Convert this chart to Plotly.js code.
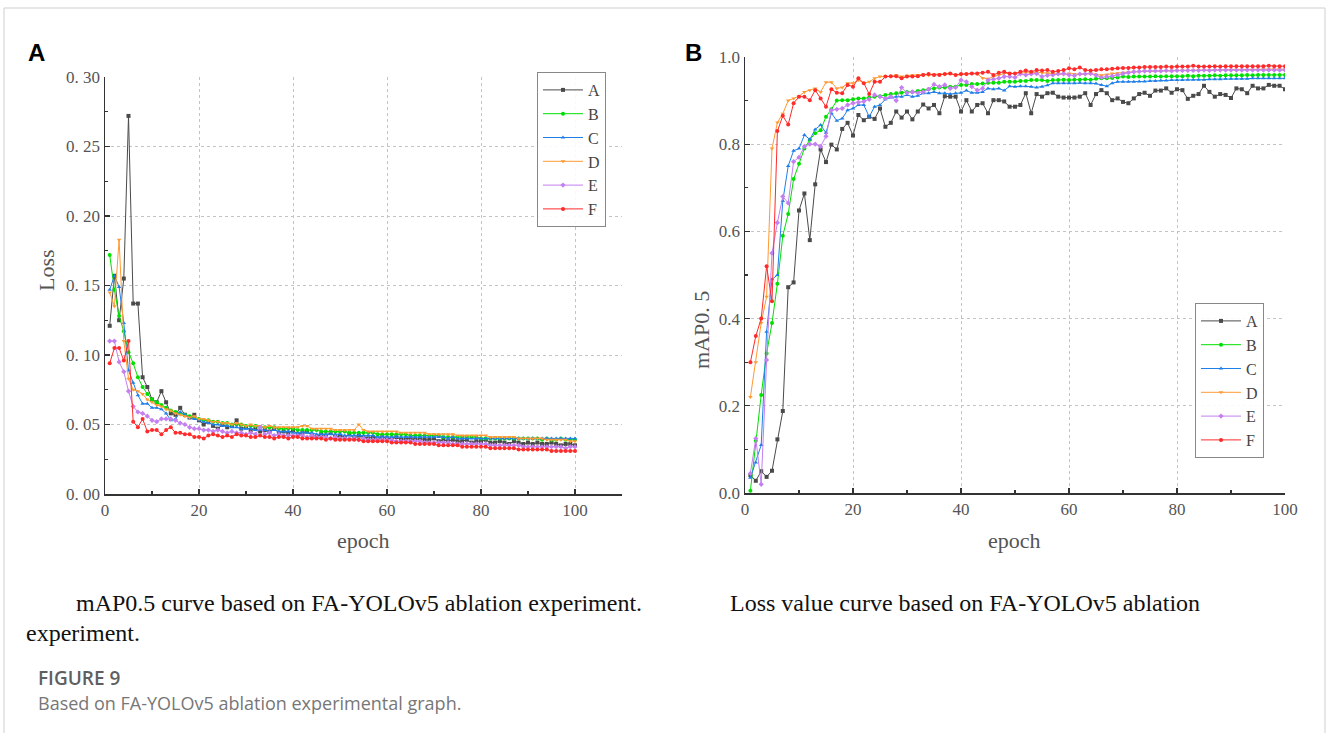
<!DOCTYPE html>
<html>
<head>
<meta charset="utf-8">
<script src="https://cdn.plot.ly/plotly-3.0.1.min.js"></script>
<style>html,body{margin:0;padding:0;background:#fff;}#chart{width:1328px;height:733px;}</style>
</head>
<body>
<div id="chart"></div>
<script>
const epochs = Array.from({length: 100}, (_, i) => i + 1);
const seriesNames = ["A", "B", "C", "D", "E", "F"];
const seriesColors = ["#4a4a4a", "#00e000", "#1f7fe8", "#ff9a33", "#c47ff0", "#ff2a2a"];
const seriesSymbols = ["square", "circle", "triangle-up", "triangle-down", "diamond", "circle"];

const lossA = [0.121,0.157,0.125,0.155,0.272,0.137,0.137,0.084,0.077,0.068,0.066,0.074,0.066,0.058,0.057,0.062,0.057,0.055,0.057,0.053,
0.050,0.052,0.049,0.047,0.050,0.048,0.049,0.053,0.047,0.048,0.046,0.047,0.045,0.046,0.045,0.047,0.044,0.045,0.044,0.046,
0.043,0.044,0.045,0.042,0.041,0.043,0.042,0.044,0.041,0.042,0.041,0.043,0.040,0.042,0.041,0.040,0.041,0.040,0.041,0.040,
0.040,0.041,0.039,0.040,0.040,0.039,0.040,0.039,0.039,0.040,0.038,0.039,0.038,0.039,0.038,0.038,0.039,0.037,0.038,0.038,
0.039,0.037,0.037,0.038,0.037,0.036,0.038,0.037,0.036,0.037,0.036,0.037,0.036,0.036,0.037,0.036,0.035,0.036,0.036,0.035];
const lossB = [0.172,0.147,0.128,0.117,0.102,0.094,0.084,0.077,0.072,0.068,0.066,0.064,0.062,0.060,0.059,0.058,0.057,0.056,0.055,0.054,
0.053,0.053,0.052,0.052,0.051,0.051,0.050,0.050,0.050,0.049,0.049,0.049,0.048,0.048,0.048,0.048,0.047,0.047,0.047,0.047,
0.046,0.046,0.046,0.046,0.046,0.045,0.045,0.045,0.045,0.045,0.045,0.044,0.044,0.044,0.044,0.044,0.044,0.043,0.043,0.043,
0.043,0.043,0.043,0.043,0.042,0.042,0.042,0.042,0.042,0.042,0.042,0.041,0.041,0.041,0.041,0.041,0.041,0.041,0.041,0.040,
0.040,0.040,0.040,0.040,0.040,0.040,0.040,0.040,0.040,0.040,0.040,0.040,0.039,0.040,0.039,0.039,0.040,0.039,0.039,0.039];
const lossC = [0.147,0.157,0.149,0.123,0.089,0.080,0.071,0.065,0.065,0.062,0.062,0.061,0.058,0.053,0.054,0.059,0.057,0.055,0.054,0.053,
0.052,0.051,0.050,0.050,0.049,0.049,0.048,0.048,0.047,0.047,0.047,0.046,0.046,0.046,0.045,0.046,0.045,0.045,0.045,0.044,
0.044,0.044,0.044,0.044,0.043,0.043,0.043,0.043,0.043,0.043,0.042,0.042,0.042,0.042,0.042,0.042,0.042,0.041,0.041,0.041,
0.041,0.041,0.041,0.041,0.041,0.041,0.041,0.041,0.041,0.041,0.041,0.041,0.040,0.041,0.040,0.040,0.040,0.040,0.040,0.040,
0.040,0.040,0.040,0.040,0.040,0.040,0.040,0.040,0.040,0.040,0.040,0.040,0.040,0.040,0.040,0.040,0.040,0.040,0.040,0.040];
const lossD = [0.145,0.135,0.183,0.110,0.083,0.075,0.074,0.072,0.068,0.066,0.064,0.063,0.061,0.060,0.058,0.057,0.056,0.055,0.056,0.054,
0.054,0.053,0.052,0.052,0.051,0.051,0.050,0.051,0.050,0.049,0.050,0.049,0.049,0.048,0.049,0.048,0.048,0.048,0.048,0.048,
0.048,0.049,0.049,0.047,0.047,0.047,0.047,0.047,0.046,0.046,0.046,0.046,0.046,0.050,0.046,0.045,0.045,0.045,0.045,0.045,
0.045,0.045,0.044,0.044,0.044,0.044,0.044,0.044,0.043,0.043,0.043,0.043,0.043,0.043,0.042,0.042,0.042,0.042,0.042,0.042,
0.042,0.041,0.041,0.041,0.041,0.041,0.041,0.040,0.040,0.040,0.040,0.040,0.040,0.039,0.039,0.039,0.039,0.039,0.038,0.038];
const lossE = [0.110,0.110,0.095,0.088,0.074,0.063,0.059,0.058,0.056,0.053,0.052,0.054,0.054,0.054,0.053,0.051,0.050,0.048,0.047,0.047,
0.046,0.046,0.045,0.046,0.045,0.044,0.045,0.044,0.044,0.043,0.044,0.043,0.048,0.043,0.044,0.042,0.043,0.042,0.042,0.042,
0.042,0.042,0.041,0.042,0.041,0.041,0.041,0.040,0.041,0.040,0.040,0.040,0.040,0.039,0.040,0.039,0.039,0.039,0.039,0.039,
0.039,0.038,0.038,0.038,0.038,0.038,0.038,0.037,0.037,0.037,0.037,0.037,0.037,0.036,0.036,0.036,0.036,0.036,0.036,0.036,
0.036,0.035,0.035,0.035,0.035,0.035,0.035,0.035,0.034,0.034,0.034,0.034,0.034,0.034,0.034,0.034,0.034,0.033,0.034,0.034];
const lossF = [0.094,0.105,0.105,0.096,0.110,0.052,0.048,0.054,0.045,0.046,0.046,0.043,0.046,0.048,0.044,0.044,0.043,0.043,0.041,0.041,
0.040,0.042,0.043,0.042,0.041,0.042,0.041,0.043,0.042,0.042,0.041,0.041,0.042,0.041,0.041,0.040,0.041,0.041,0.040,0.041,
0.041,0.040,0.040,0.040,0.040,0.040,0.039,0.040,0.039,0.039,0.039,0.039,0.039,0.039,0.038,0.038,0.038,0.038,0.038,0.038,
0.037,0.037,0.037,0.037,0.037,0.036,0.036,0.036,0.036,0.036,0.035,0.035,0.035,0.035,0.035,0.034,0.034,0.034,0.034,0.034,
0.034,0.033,0.033,0.033,0.033,0.033,0.033,0.032,0.032,0.032,0.032,0.032,0.032,0.032,0.031,0.031,0.031,0.031,0.031,0.031];

const mapA = [0.041,0.028,0.050,0.037,0.051,0.123,0.188,0.472,0.483,0.648,0.687,0.580,0.708,0.788,0.759,0.799,0.788,0.835,0.849,0.820,
0.867,0.855,0.863,0.858,0.882,0.840,0.849,0.875,0.861,0.875,0.857,0.875,0.891,0.882,0.890,0.871,0.910,0.909,0.909,0.875,
0.901,0.875,0.890,0.894,0.871,0.901,0.901,0.898,0.886,0.886,0.890,0.917,0.871,0.915,0.909,0.917,0.918,0.909,0.907,0.907,
0.907,0.909,0.917,0.890,0.915,0.924,0.917,0.901,0.905,0.897,0.894,0.905,0.915,0.918,0.911,0.923,0.923,0.928,0.918,0.926,
0.924,0.904,0.911,0.915,0.934,0.920,0.909,0.915,0.913,0.906,0.928,0.926,0.917,0.934,0.928,0.928,0.936,0.934,0.934,0.926];
const mapB = [0.005,0.120,0.225,0.320,0.390,0.480,0.590,0.640,0.720,0.755,0.790,0.810,0.825,0.832,0.863,0.880,0.900,0.901,0.901,0.903,
0.905,0.905,0.907,0.909,0.910,0.913,0.915,0.917,0.918,0.920,0.920,0.922,0.924,0.926,0.928,0.930,0.930,0.932,0.932,0.936,
0.936,0.938,0.938,0.939,0.941,0.941,0.941,0.943,0.943,0.943,0.945,0.945,0.947,0.947,0.947,0.945,0.947,0.947,0.948,0.947,
0.948,0.948,0.949,0.948,0.950,0.951,0.951,0.952,0.953,0.955,0.954,0.955,0.955,0.955,0.955,0.956,0.955,0.956,0.956,0.956,
0.956,0.957,0.956,0.957,0.957,0.957,0.958,0.957,0.958,0.958,0.958,0.958,0.959,0.958,0.959,0.959,0.959,0.959,0.959,0.959];
const mapC = [0.035,0.070,0.110,0.370,0.490,0.500,0.670,0.750,0.785,0.790,0.821,0.811,0.834,0.844,0.826,0.871,0.854,0.859,0.878,0.882,
0.890,0.890,0.863,0.886,0.890,0.903,0.907,0.909,0.909,0.913,0.909,0.911,0.917,0.917,0.920,0.917,0.917,0.915,0.917,0.918,
0.923,0.918,0.918,0.920,0.928,0.926,0.928,0.923,0.933,0.932,0.933,0.933,0.932,0.930,0.932,0.935,0.940,0.940,0.940,0.940,
0.940,0.941,0.940,0.940,0.939,0.936,0.933,0.940,0.943,0.943,0.943,0.943,0.944,0.944,0.945,0.945,0.946,0.946,0.947,0.947,
0.947,0.948,0.948,0.948,0.948,0.949,0.949,0.949,0.950,0.950,0.950,0.950,0.950,0.951,0.951,0.951,0.951,0.951,0.951,0.951];
const mapD = [0.220,0.300,0.390,0.450,0.790,0.850,0.870,0.900,0.905,0.910,0.920,0.924,0.928,0.920,0.942,0.942,0.928,0.930,0.940,0.940,
0.947,0.940,0.943,0.951,0.955,0.955,0.955,0.958,0.955,0.957,0.958,0.959,0.960,0.958,0.960,0.961,0.960,0.962,0.958,0.960,
0.961,0.962,0.961,0.952,0.950,0.955,0.958,0.962,0.963,0.962,0.963,0.964,0.963,0.965,0.964,0.963,0.962,0.961,0.960,0.962,
0.961,0.960,0.961,0.962,0.960,0.958,0.960,0.962,0.963,0.964,0.965,0.966,0.966,0.967,0.967,0.968,0.968,0.968,0.969,0.969,
0.969,0.969,0.970,0.970,0.970,0.970,0.970,0.970,0.971,0.971,0.971,0.971,0.971,0.971,0.971,0.972,0.972,0.972,0.972,0.972];
const mapE = [0.045,0.125,0.020,0.305,0.550,0.620,0.680,0.665,0.760,0.770,0.795,0.800,0.800,0.795,0.818,0.878,0.880,0.882,0.890,0.894,
0.896,0.898,0.903,0.913,0.909,0.905,0.909,0.900,0.930,0.918,0.920,0.918,0.920,0.926,0.937,0.932,0.936,0.928,0.930,0.947,
0.943,0.932,0.924,0.928,0.947,0.949,0.951,0.955,0.955,0.953,0.961,0.959,0.961,0.962,0.955,0.958,0.959,0.961,0.962,0.959,
0.957,0.961,0.961,0.962,0.958,0.953,0.955,0.956,0.959,0.962,0.964,0.966,0.967,0.968,0.968,0.968,0.968,0.969,0.968,0.969,
0.969,0.969,0.969,0.969,0.970,0.969,0.970,0.970,0.970,0.970,0.970,0.970,0.970,0.970,0.970,0.970,0.970,0.970,0.970,0.970];
const mapF = [0.300,0.360,0.400,0.520,0.440,0.830,0.865,0.845,0.894,0.909,0.909,0.901,0.924,0.905,0.886,0.926,0.918,0.917,0.936,0.932,
0.951,0.940,0.915,0.943,0.943,0.955,0.956,0.956,0.951,0.955,0.955,0.956,0.959,0.961,0.959,0.959,0.961,0.962,0.959,0.961,
0.961,0.962,0.962,0.964,0.966,0.959,0.964,0.966,0.962,0.962,0.966,0.969,0.966,0.970,0.969,0.970,0.966,0.968,0.970,0.974,
0.972,0.976,0.970,0.969,0.970,0.972,0.972,0.973,0.974,0.975,0.975,0.976,0.976,0.977,0.977,0.977,0.977,0.978,0.977,0.978,
0.978,0.978,0.980,0.978,0.978,0.978,0.979,0.978,0.979,0.979,0.979,0.979,0.979,0.979,0.979,0.979,0.980,0.979,0.979,0.979];

const lossTickVals = [0, 0.05, 0.10, 0.15, 0.20, 0.25, 0.30];
const lossTickText = ["0. 00", "0. 05", "0. 10", "0. 15", "0. 20", "0. 25", "0. 30"];
const mapTickVals = [0, 0.2, 0.4, 0.6, 0.8, 1.0];
const mapTickText = ["0.0", "0.2", "0.4", "0.6", "0.8", "1.0"];

const lossSeries = [lossA, lossB, lossC, lossD, lossE, lossF];
const mapSeries = [mapA, mapB, mapC, mapD, mapE, mapF];

const traces = [];
lossSeries.forEach((ys, i) => traces.push({
  x: epochs, y: ys, name: seriesNames[i], type: "scatter", mode: "lines+markers",
  xaxis: "x", yaxis: "y", legend: "legend",
  line: {color: seriesColors[i], width: 1},
  marker: {color: seriesColors[i], size: 4, symbol: seriesSymbols[i]}
}));
mapSeries.forEach((ys, i) => traces.push({
  x: epochs, y: ys, name: seriesNames[i], type: "scatter", mode: "lines+markers",
  xaxis: "x2", yaxis: "y2", legend: "legend2",
  line: {color: seriesColors[i], width: 1},
  marker: {color: seriesColors[i], size: 4, symbol: seriesSymbols[i]}
}));

const W = 1328, H = 733;
const px = v => v / W;
const py = v => 1 - v / H;
const serif = "Liberation Serif, DejaVu Serif, serif";
const sans = "Open Sans, Noto Sans, sans-serif";
const tickFont = {family: serif, size: 17, color: "#555"};
const titleFont = {family: serif, size: 22, color: "#555"};

const axisCommon = {
  showline: true, linecolor: "#333", linewidth: 1.5, mirror: false,
  ticks: "inside", ticklen: 5, tickwidth: 1.2, tickcolor: "#333",
  showgrid: true, gridcolor: "#c4c4c4", griddash: "dot", gridwidth: 1,
  zeroline: false, tickfont: tickFont, fixedrange: true, automargin: false
};

const legendCommon = {
  font: {family: serif, size: 16, color: "#444"},
  bordercolor: "#888", borderwidth: 1, bgcolor: "rgba(255,255,255,0.9)",
  xanchor: "left", yanchor: "top", tracegroupgap: 0, itemwidth: 40
};

const layout = {
  width: W, height: H,
  margin: {l: 0, r: 0, t: 0, b: 0},
  paper_bgcolor: "#fff", plot_bgcolor: "#fff",
  showlegend: true,
  xaxis: Object.assign({}, axisCommon, {
    domain: [px(105), px(622)], range: [0, 110], anchor: "y",
    tickmode: "linear", tick0: 0, dtick: 20,
    minor: {dtick: 10, ticks: "inside", ticklen: 3, tickcolor: "#333", showgrid: false}
  }),
  yaxis: Object.assign({}, axisCommon, {
    domain: [py(494), py(77)], range: [0, 0.30], anchor: "x",
    tickmode: "array", tickvals: lossTickVals, ticktext: lossTickText,
    minor: {tickmode: "array", tickvals: [0.025, 0.075, 0.125, 0.175, 0.225, 0.275], ticks: "inside", ticklen: 3, tickcolor: "#333", showgrid: false}
  }),
  xaxis2: Object.assign({}, axisCommon, {
    domain: [px(745), px(1285)], range: [0, 100], anchor: "y2",
    tickmode: "linear", tick0: 0, dtick: 20,
    minor: {dtick: 10, ticks: "inside", ticklen: 3, tickcolor: "#333", showgrid: false}
  }),
  yaxis2: Object.assign({}, axisCommon, {
    domain: [py(493), py(57)], range: [0, 1.0], anchor: "x2",
    tickmode: "array", tickvals: mapTickVals, ticktext: mapTickText,
    minor: {dtick: 0.1, ticks: "inside", ticklen: 3, tickcolor: "#333", showgrid: false}
  }),
  legend: Object.assign({}, legendCommon, {x: px(537), y: py(72)}),
  legend2: Object.assign({}, legendCommon, {x: px(1195), y: py(303)}),
  shapes: [
    {type: "rect", xref: "paper", yref: "paper", x0: px(4), x1: px(1325), y0: -0.05, y1: py(8),
     line: {color: "#cfcfcf", width: 1}, fillcolor: "rgba(0,0,0,0)", layer: "below"}
  ],
  annotations: [
    {text: "epoch", x: px(363), y: py(540), xref: "paper", yref: "paper",
     xanchor: "center", yanchor: "middle", showarrow: false, font: titleFont},
    {text: "epoch", x: px(1015), y: py(540), xref: "paper", yref: "paper",
     xanchor: "center", yanchor: "middle", showarrow: false, font: titleFont},
    {text: "Loss", x: px(46), y: py(270), xref: "paper", yref: "paper", textangle: -90,
     xanchor: "center", yanchor: "middle", showarrow: false, font: titleFont},
    {text: "mAP0. 5", x: px(701), y: py(330), xref: "paper", yref: "paper", textangle: -90,
     xanchor: "center", yanchor: "middle", showarrow: false, font: titleFont},
    {text: "<b>A</b>", x: px(26), y: py(52), xref: "paper", yref: "paper", xanchor: "left", yanchor: "middle", showarrow: false,
     font: {family: "Liberation Sans, Arial, sans-serif", size: 24, color: "#000"}},
    {text: "<b>B</b>", x: px(683), y: py(52), xref: "paper", yref: "paper", xanchor: "left", yanchor: "middle", showarrow: false,
     font: {family: "Liberation Sans, Arial, sans-serif", size: 24, color: "#000"}},
    {text: "mAP0.5 curve based on FA-YOLOv5 ablation experiment.", x: px(74), y: py(603), xref: "paper", yref: "paper",
     xanchor: "left", yanchor: "middle", showarrow: false, font: {family: serif, size: 24, color: "#111"}},
    {text: "experiment.", x: px(24), y: py(633), xref: "paper", yref: "paper",
     xanchor: "left", yanchor: "middle", showarrow: false, font: {family: serif, size: 24, color: "#111"}},
    {text: "Loss value curve based on FA-YOLOv5 ablation", x: px(728), y: py(603), xref: "paper", yref: "paper",
     xanchor: "left", yanchor: "middle", showarrow: false, font: {family: serif, size: 24, color: "#111"}},
    {text: "FIGURE 9", x: px(36), y: py(678), xref: "paper", yref: "paper",
     xanchor: "left", yanchor: "middle", showarrow: false, font: {family: sans, size: 19, color: "#5f5f5f", weight: 600}},
    {text: "Based on FA-YOLOv5 ablation experimental graph.", x: px(36), y: py(703), xref: "paper", yref: "paper",
     xanchor: "left", yanchor: "middle", showarrow: false, font: {family: sans, size: 18, color: "#777"}}
  ]
};

Plotly.newPlot("chart", traces, layout, {displayModeBar: false, staticPlot: true});
</script>
</body>
</html>
